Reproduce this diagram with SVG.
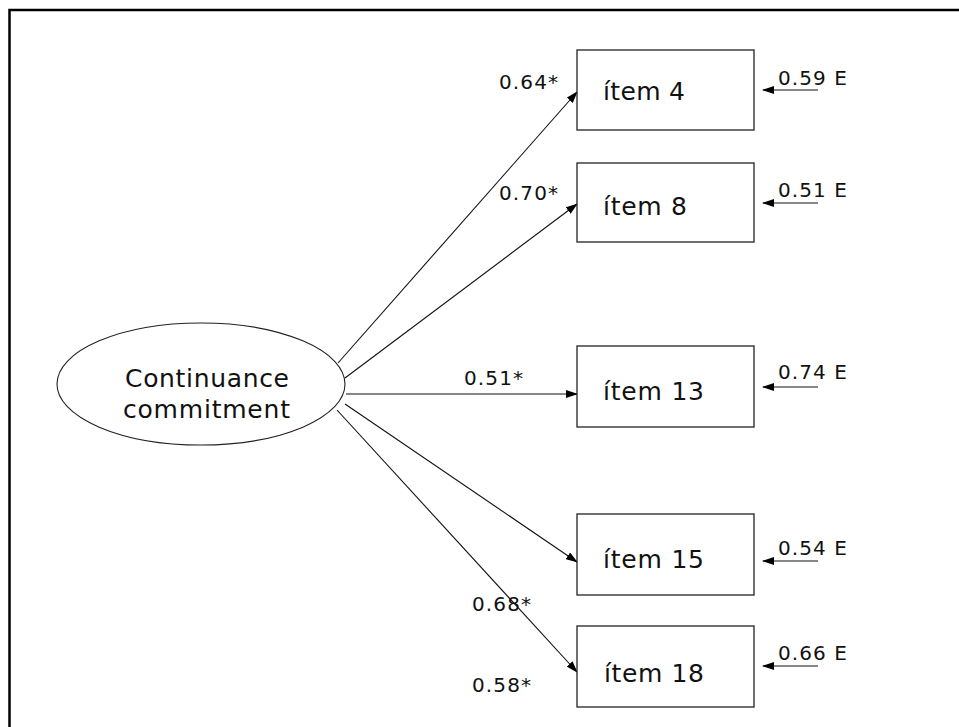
<svg xmlns="http://www.w3.org/2000/svg" width="959" height="727" viewBox="0 0 959 727">
<style>
  text { font-family: "DejaVu Sans", Verdana, sans-serif; fill: #111; }
  .lat { font-size: 25px; }
  .item { font-size: 25px; }
  .num { font-size: 20px; }
  .box { fill: #fff; stroke: #222; stroke-width: 1.3; }
  .ell { fill: #fff; stroke: #222; stroke-width: 1.1; }
  .con { stroke: #111; stroke-width: 1.1; fill: none; marker-end: url(#ah); }
  .frame { stroke: #000; stroke-width: 2.5; fill: none; }
</style>
<defs>
  <marker id="ah" markerWidth="12" markerHeight="8" refX="11" refY="4" orient="auto" markerUnits="userSpaceOnUse">
    <path d="M0,0 L12,4 L0,8 z" fill="#000"/>
  </marker>
</defs>
<rect width="959" height="727" fill="#fff"/>
<path class="frame" d="M9.5,727 L9.5,10 L959,10"/>

<g id="connectors">
  <line class="con" x1="338" y1="363" x2="577" y2="92"/>
  <line class="con" x1="345" y1="378" x2="577" y2="204"/>
  <line class="con" x1="346" y1="394" x2="577" y2="394"/>
  <line class="con" x1="345" y1="404" x2="577" y2="562"/>
  <line class="con" x1="337" y1="410" x2="577" y2="672"/>
  <line class="con" x1="818" y1="90" x2="763" y2="90"/>
  <line class="con" x1="818" y1="203" x2="763" y2="203"/>
  <line class="con" x1="818" y1="387" x2="763" y2="387"/>
  <line class="con" x1="818" y1="561" x2="763" y2="561"/>
  <line class="con" x1="818" y1="666" x2="763" y2="666"/>
</g>

<g id="latent">
  <ellipse class="ell" cx="201" cy="384" rx="144" ry="61"/>
  <text class="lat" x="125" y="387" textLength="164" lengthAdjust="spacing">Continuance</text>
  <text class="lat" x="123" y="418" textLength="167" lengthAdjust="spacing">commitment</text>
</g>

<g id="item4">
  <rect class="box" x="577" y="50" width="177" height="80"/>
  <text class="item" x="603" y="100" textLength="82" lengthAdjust="spacing">ítem 4</text>
</g>
<g id="item8">
  <rect class="box" x="577" y="163" width="177" height="79"/>
  <text class="item" x="603" y="215" textLength="84" lengthAdjust="spacing">ítem 8</text>
</g>
<g id="item13">
  <rect class="box" x="577" y="346" width="177" height="81"/>
  <text class="item" x="603" y="400" textLength="101" lengthAdjust="spacing">ítem 13</text>
</g>
<g id="item15">
  <rect class="box" x="577" y="514" width="177" height="81"/>
  <text class="item" x="603" y="568" textLength="101" lengthAdjust="spacing">ítem 15</text>
</g>
<g id="item18">
  <rect class="box" x="577" y="626" width="177" height="81"/>
  <text class="item" x="604" y="682" textLength="100" lengthAdjust="spacing">ítem 18</text>
</g>

<g id="loadings">
  <text class="num" x="499" y="89" textLength="59" lengthAdjust="spacing">0.64*</text>
  <text class="num" x="499" y="200" textLength="59" lengthAdjust="spacing">0.70*</text>
  <text class="num" x="464" y="385" textLength="59" lengthAdjust="spacing">0.51*</text>
  <text class="num" x="472" y="611" textLength="59" lengthAdjust="spacing">0.68*</text>
  <text class="num" x="472" y="692" textLength="59" lengthAdjust="spacing">0.58*</text>
</g>

<g id="errors">
  <text class="num" x="778" y="85" textLength="69" lengthAdjust="spacing">0.59 E</text>
  <text class="num" x="778" y="197" textLength="69" lengthAdjust="spacing">0.51 E</text>
  <text class="num" x="778" y="379" textLength="69" lengthAdjust="spacing">0.74 E</text>
  <text class="num" x="778" y="555" textLength="69" lengthAdjust="spacing">0.54 E</text>
  <text class="num" x="778" y="660" textLength="69" lengthAdjust="spacing">0.66 E</text>
</g>
</svg>
